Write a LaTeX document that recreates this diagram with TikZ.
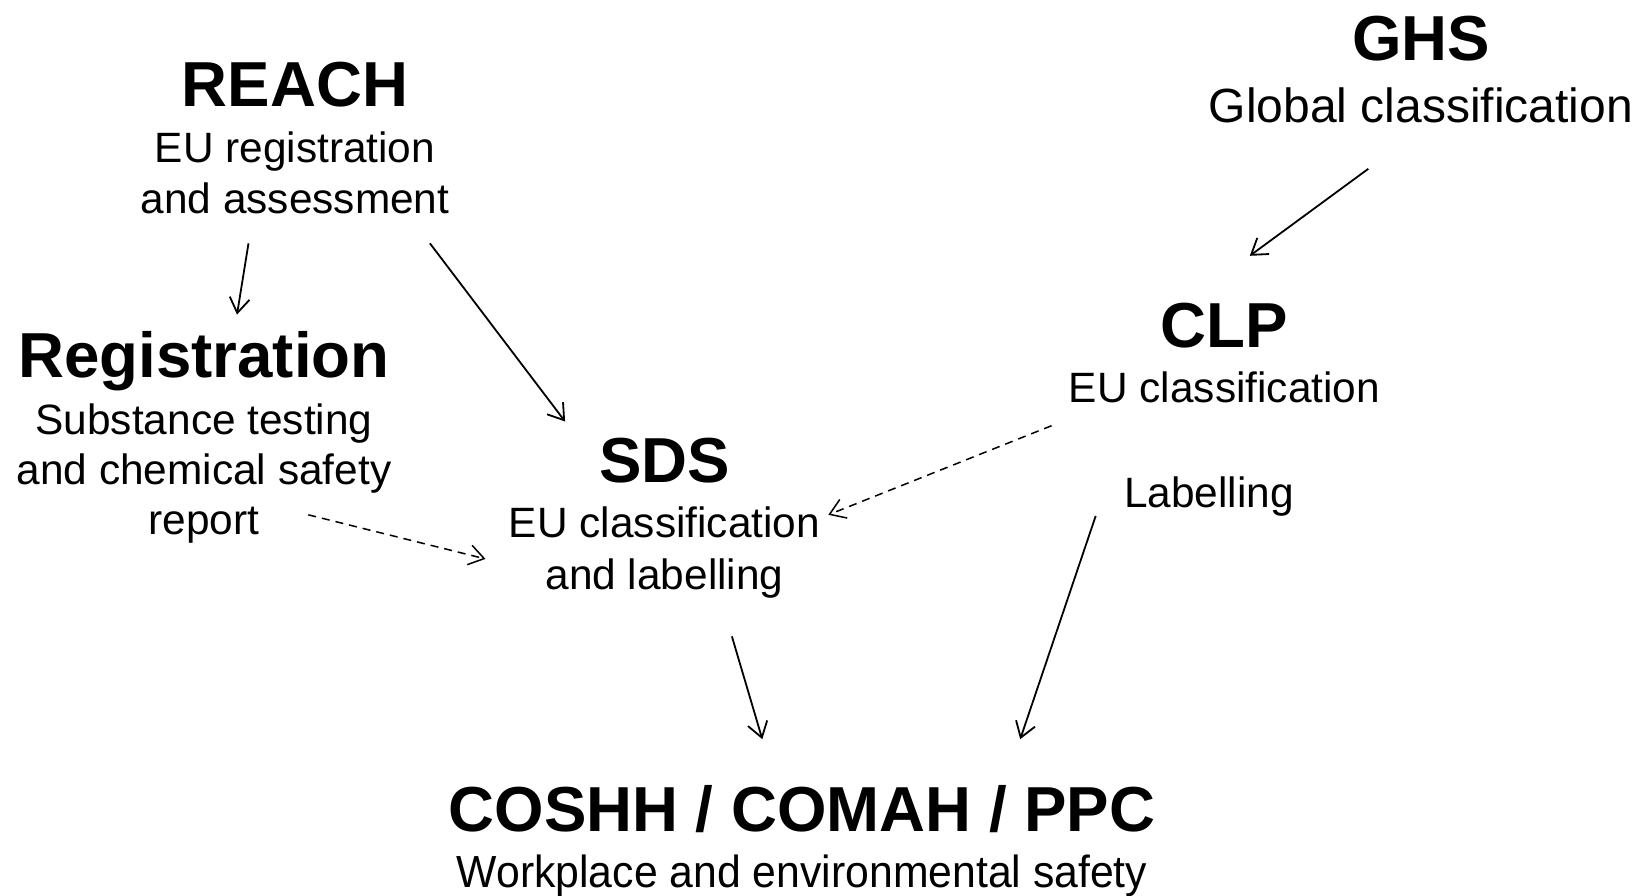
\documentclass[tikz,border=0pt]{standalone}
\usepackage{fontspec}
\setmainfont{Liberation Sans}
\usepackage{tikz}
\usetikzlibrary{arrows.meta, positioning}

\begin{document}
\begin{tikzpicture}[
            x=0.5pt, y=-0.5pt,
            title/.style={anchor=base, inner sep=0pt, font=\fontsize{31.8}{33}\selectfont\bfseries},
            desc/.style={anchor=base, inner sep=0pt, font=\fontsize{21.2}{25}\selectfont},
            arrow/.style={-{Straight Barb[length=7.5pt, width=10pt]}, line width=0.9pt},
            darrow/.style={arrow, line width=0.75pt, dash pattern=on 4pt off 3pt}
        ]
        \useasboundingbox (0,0) rectangle (1644,895);

        % --- REACH ---
        \node[title] (reach)  at (295,106)   {REACH};
        \node[desc]  (reachA) at (295,162.5) {EU registration};
        \node[desc]  (reachB) at (295,213)   {and assessment};

        % --- GHS ---
        \node[title] (ghs)  at (1421,60) {GHS};
        \node[desc, font=\fontsize{24}{25}\selectfont] (ghsA) at (1421,122.5) {Global classification};

        % --- Registration ---
        \node[title] (reg)  at (204,377.5) {Registration};
        \node[desc]  (regA) at (204,434)   {Substance testing};
        \node[desc]  (regB) at (204,484.4) {and chemical safety};
        \node[desc]  (regC) at (204,534.7) {report};

        % --- CLP ---
        \node[title] (clp)  at (1224.5,347)   {CLP};
        \node[desc]  (clpA) at (1224.5,402.6) {EU classification};
        \node[desc]  (lab)  at (1209,507.5)   {Labelling};

        % --- SDS ---
        \node[title] (sds)  at (664.5,482.3) {SDS};
        \node[desc]  (sdsA) at (664.5,537.9) {EU classification};
        \node[desc]  (sdsB) at (664.5,589.3) {and labelling};

        % --- COSHH / COMAH / PPC ---
        \node[title] (coshh)  at (802,831.5) {COSHH / COMAH / PPC};
        \node[desc, font=\fontsize{22.5}{25}\selectfont, xscale=0.95] (coshhA) at (802,887) {Workplace and environmental safety};

        % --- connector ends ---
        \coordinate (reachOutL) at (248.5,243.3);
        \coordinate (regIn)     at (237,314.6);
        \coordinate (reachOutR) at (429.9,243.3);
        \coordinate (sdsInT)    at (565.1,421.5);
        \coordinate (regOut)    at (308.3,514.8);
        \coordinate (sdsInL)    at (485.5,558.9);
        \coordinate (clpOut)    at (1051.6,425.7);
        \coordinate (sdsInR)    at (828.3,514.8);
        \coordinate (ghsOut)    at (1368.3,168.8);
        \coordinate (clpIn)     at (1249.8,255.8);
        \coordinate (sdsOut)    at (731.9,636.4);
        \coordinate (coshhInL)  at (762.3,739.2);
        \coordinate (labOut)    at (1095.7,515.9);
        \coordinate (coshhInR)  at (1020.2,739.2);

        \draw[arrow]  (reachOutL)--(regIn);
        \draw[arrow]  (reachOutR)--(sdsInT);
        \draw[darrow] (regOut)--(sdsInL);
        \draw[darrow] (clpOut)--(sdsInR);
        \draw[arrow]  (ghsOut)--(clpIn);
        \draw[arrow]  (sdsOut)--(coshhInL);
        \draw[arrow]  (labOut)--(coshhInR);

        \end{tikzpicture}
\end{document}
